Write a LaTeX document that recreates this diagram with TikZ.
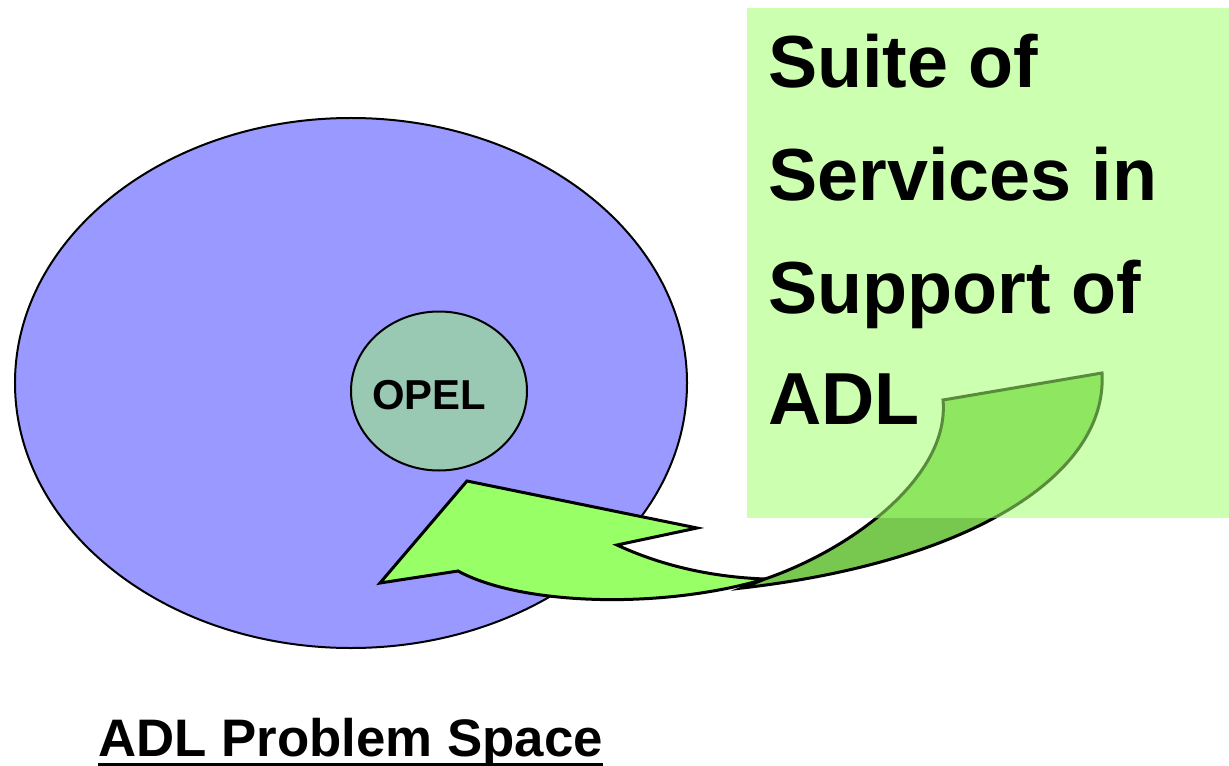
\documentclass[tikz,border=0pt]{standalone}
\usepackage{fontspec}
\setmainfont{Liberation Sans}
\usetikzlibrary{shapes.geometric}
\definecolor{spaceblue}{HTML}{9999FF}
\definecolor{opelgreen}{HTML}{99C9B3}
\definecolor{arrowgreen}{HTML}{99FF66}
\definecolor{tailgreen}{HTML}{78C850}
\definecolor{boxgreen}{HTML}{A2FF6F}
\tikzset{
  title/.style={font=\fontsize{74}{80}\selectfont\bfseries, anchor=base west, inner sep=0pt},
  arrowbody/.style={fill=arrowgreen, draw=black, line width=3bp, line join=miter},
  arrowtail/.style={fill=tailgreen, draw=black, line width=3bp, line join=miter},
}
\begin{document}
\begin{tikzpicture}[x=1bp,y=-1bp]
\useasboundingbox (0,0) rectangle (1229,766);
\node (space) [ellipse, draw=black, line width=2bp, fill=spaceblue, minimum width=672bp, minimum height=530bp, inner sep=0pt] at (351,383) {};
\node (opelc) [ellipse, draw=black, line width=2bp, fill=opelgreen, minimum width=176bp, minimum height=159bp, inner sep=0pt] at (439,391) {};
\node (opel) [font=\fontsize{42}{42}\selectfont\bfseries, inner sep=0pt] at (429,395) {OPEL};
% curved arrow
\filldraw[arrowbody] (617,545) .. controls (660,565) and (710,577) .. (765,579)
  .. controls (660,610) and (520,605) .. (458,571) -- (380,583) -- (467,481) -- (697,528) -- cycle;
\filldraw[arrowtail] (765,579) .. controls (855,548) and (950,475) .. (943,400) -- (1102,373)
  .. controls (1108,475) and (970,562) .. (742,588) -- cycle;
% box
\fill[boxgreen, fill opacity=0.55] (747,8) rectangle (1229,518);
\node (l1) [title] at (768,88) {Suite of};
\node (l2) [title] at (768,200) {Services in};
\node (l3) [title] at (768,313) {Support of};
\node (l4) [title] at (768,424) {ADL};
\node (lbl) [font=\fontsize{53}{53}\selectfont\bfseries, anchor=base west, inner sep=0pt] at (98,756) {ADL Problem Space};
\draw[line width=3bp] ([yshift=-8bp]lbl.base west) -- ([yshift=-8bp]lbl.base east);
\end{tikzpicture}
\end{document}
